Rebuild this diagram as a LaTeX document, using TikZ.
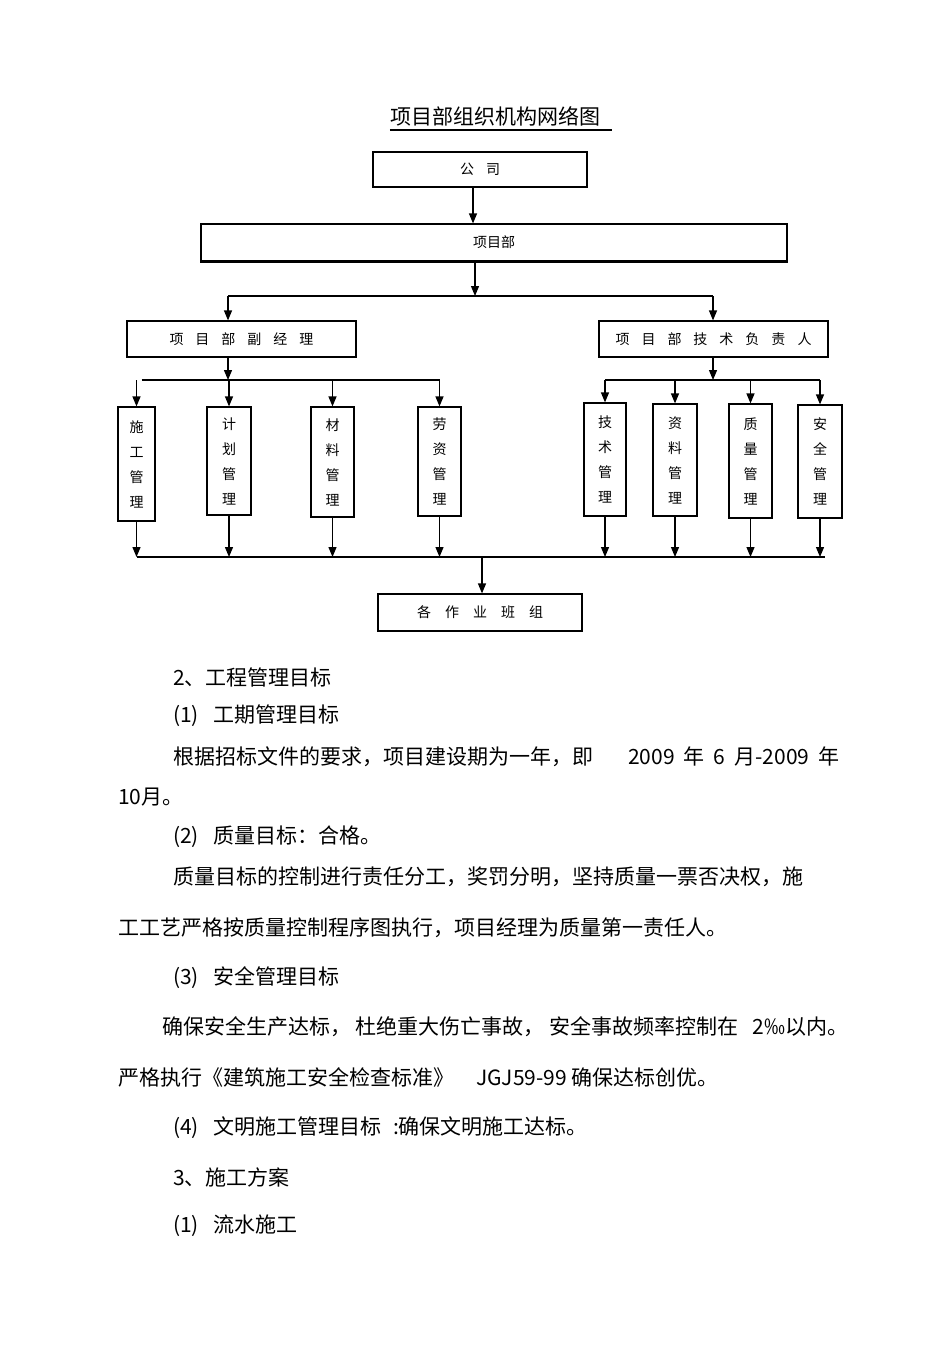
\documentclass[tikz,border=0pt]{standalone}
\usepackage{fontspec}
\setmainfont{Noto Sans CJK SC}
\usetikzlibrary{arrows.meta}
\newcommand{\gap}{\hspace{12pt}}
\tikzset{
  orgbox/.style={draw, line width=1.2pt, inner sep=0pt, font=\fontsize{14}{14}\selectfont},
  colbox/.style={draw, line width=1.2pt, inner sep=0pt, align=center, font=\fontsize{14}{25}\selectfont},
  arr/.style={line width=1.2pt, -{Triangle[width=8pt,length=10pt]}},
  link/.style={line width=1.2pt},
  para/.style={anchor=west, inner sep=0pt, font=\fontsize{21}{21}\selectfont},
}
\begin{document}
\begin{tikzpicture}[x=1pt,y=-1pt]
    \useasboundingbox[fill=white] (0,0) rectangle (950,1345);

    % title
    \node[inner sep=0pt, font=\fontsize{21}{21}\selectfont] (title) at (495,116) {项目部组织机构网络图};
    \draw[link] ([yshift=-4pt]title.south west) -- ([xshift=12pt,yshift=-4pt]title.south east);

    % chart boxes
    \node[orgbox, minimum width=214pt, minimum height=35pt] (gs) at (480,169.5) {公\gap 司};
    \node[orgbox, minimum width=586pt, minimum height=37pt] (xmb) at (494,242.5) {项目部};
    \draw[line width=2.5pt] (xmb.south west) -- (xmb.south east);
    \node[orgbox, minimum width=229pt, minimum height=36pt] (fjl) at (241.5,339) {项\gap 目\gap 部\gap 副\gap 经\gap 理};
    \node[orgbox, minimum width=229pt, minimum height=36pt] (jsf) at (713.5,339) {项\gap 目\gap 部\gap 技\gap 术\gap 负\gap 责\gap 人};
    \node[orgbox, minimum width=204pt, minimum height=37pt] (bz) at (480,612.5) {各\quad 作\quad 业\quad 班\quad 组};

    \node[colbox, minimum width=37pt, minimum height=114pt] (sg) at (136.5,464) {施\\工\\管\\理};
    \node[colbox, minimum width=44pt, minimum height=108pt] (jh) at (229,461) {计\\划\\管\\理};
    \node[colbox, minimum width=43pt, minimum height=110pt] (cl) at (332.5,462) {材\\料\\管\\理};
    \node[colbox, minimum width=43pt, minimum height=109pt] (lz) at (439.5,461.5) {劳\\资\\管\\理};
    \node[colbox, minimum width=42pt, minimum height=113pt] (js) at (605,459.5) {技\\术\\管\\理};
    \node[colbox, minimum width=44pt, minimum height=112pt] (zl) at (675,460) {资\\料\\管\\理};
    \node[colbox, minimum width=43pt, minimum height=114pt] (zlg) at (750.5,461) {质\\量\\管\\理};
    \node[colbox, minimum width=44pt, minimum height=113pt] (aq) at (820,461.5) {安\\全\\管\\理};

    % bus lines
    \coordinate (busA) at (475,296);
    \coordinate (busL) at (228,380);
    \coordinate (busR) at (713,380);
    \coordinate (busB) at (482,557);

    \draw[arr] ([xshift=-7pt]gs.south) -- ([xshift=-7pt]gs.south |- xmb.north);
    \draw[arr] (xmb.south -| busA) -- (busA);
    \draw[link] (busL |- busA) -- (busR |- busA);
    \draw[arr] (busL |- busA) -- (busL |- fjl.north);
    \draw[arr] (busR |- busA) -- (busR |- jsf.north);

    \draw[arr] (busL |- fjl.south) -- (busL);
    \draw[arr] (busR |- jsf.south) -- (busR);
    \draw[link] ([xshift=5pt]sg.north |- busL) -- (lz.north |- busL);
    \draw[link] (js.north |- busR) -- (aq.north |- busR);
    \foreach \n in {sg,jh,cl,lz,js,zl,zlg,aq}
      \draw[arr] (\n.north |- busL) -- (\n.north);

    \foreach \n in {sg,jh,cl,lz,js,zl,zlg,aq}
      \draw[arr] (\n.south) -- (\n.south |- busB);
    \draw[link] (sg.south |- busB) -- ([xshift=5pt]aq.south |- busB);
    \draw[arr] (busB) -- (busB |- bz.north);

    % text below
    \node[para] (p1) at (173,677) {2、工程管理目标};
    \node[para] (p2) at (173,716) {(1)\hspace{14pt}工期管理目标};
    \node[para] (p3) at (173,757) {根据招标文件的要求，项目建设期为一年，即\hspace{35pt}2009\hspace{9pt}年\hspace{9pt}6\hspace{9pt}月-2009\hspace{9pt}年};
    \node[para] (p4) at (118,797) {10月。};
    \node[para] (p5) at (173,837) {(2)\hspace{14pt}质量目标：合格。};
    \node[para] (p6) at (173,877) {质量目标的控制进行责任分工，奖罚分明，坚持质量一票否决权，施};
    \node[para] (p7) at (118,928) {工工艺严格按质量控制程序图执行，项目经理为质量第一责任人。};
    \node[para] (p8) at (173,978) {(3)\hspace{14pt}安全管理目标};
    \node[para] (p9) at (162,1027) {确保安全生产达标， 杜绝重大伤亡事故， 安全事故频率控制在\hspace{14pt}2‰以内。};
    \node[para] (p10) at (118,1077) {严格执行《建筑施工安全检查标准》\hspace{22pt}JGJ59-99 确保达标创优。};
    \node[para] (p11) at (173,1128) {(4)\hspace{14pt}文明施工管理目标\hspace{12pt}:确保文明施工达标。};
    \node[para] (p12) at (173,1177) {3、施工方案};
    \node[para] (p13) at (173,1226) {(1)\hspace{14pt}流水施工};
  \end{tikzpicture}
\end{document}
